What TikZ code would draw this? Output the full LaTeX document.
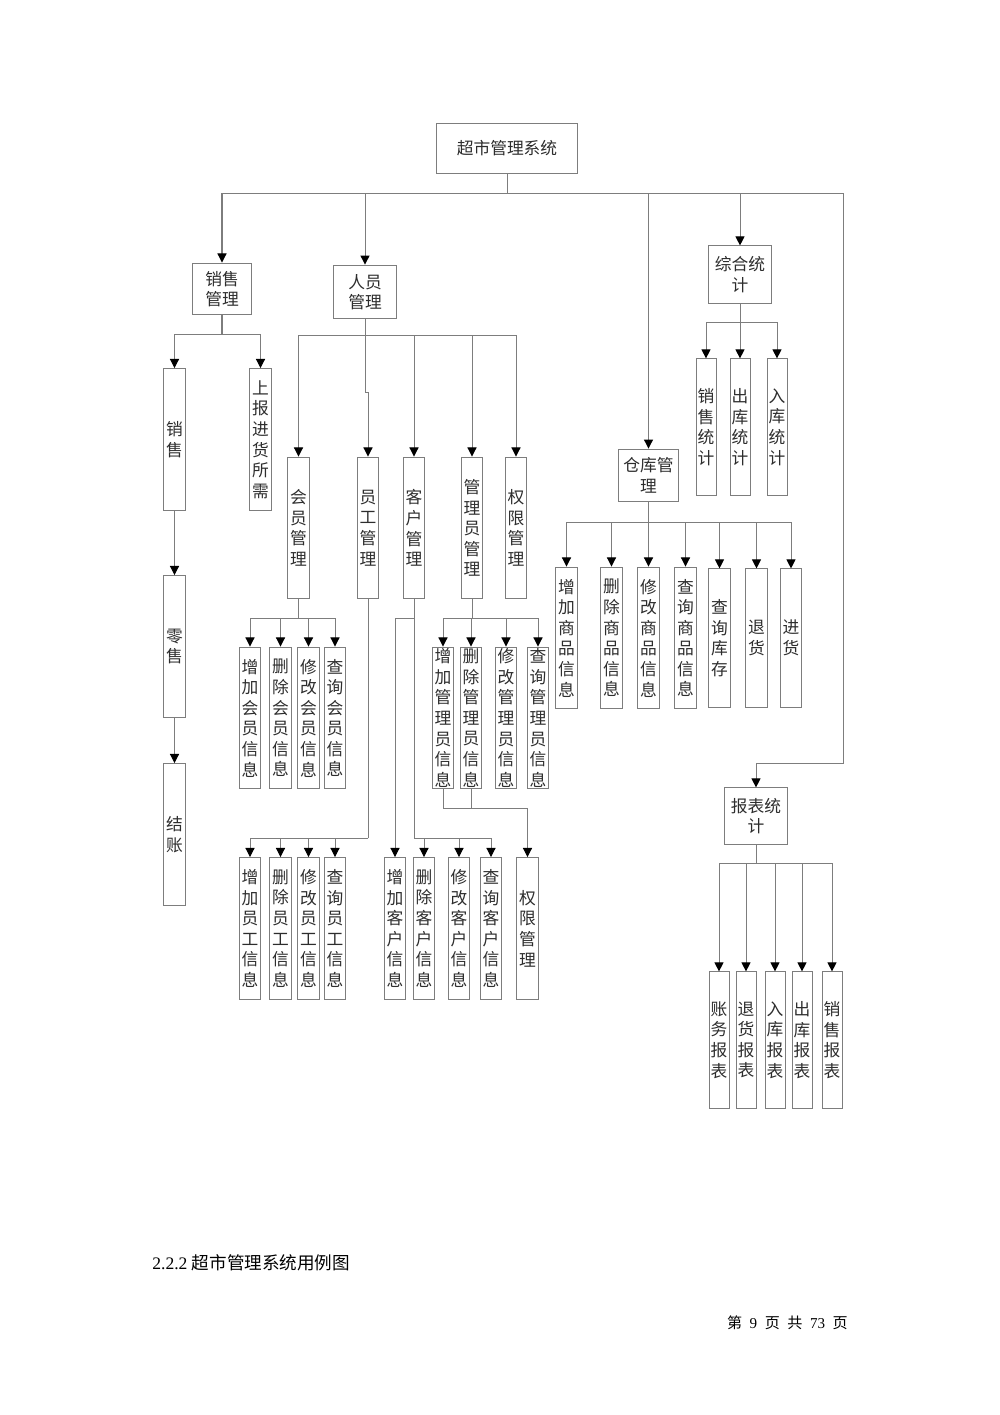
\documentclass[tikz,border=0pt]{standalone}
\usepackage{fontspec}
\setmainfont{Liberation Serif}
\newfontfamily\cjk{Noto Sans CJK SC}
\usepackage{tikz}
\usetikzlibrary{arrows.meta}
\definecolor{linegray}{RGB}{125,125,125}
\definecolor{textgray}{RGB}{45,45,45}

\begin{document}
\begin{tikzpicture}[x=0.021cm, y=0.021cm,
    % Box styles
    modbox/.style={draw=linegray, line width=0.6pt, minimum width=1.34cm, minimum height=1.13cm,
                   inner sep=0pt, font=\cjk\fontsize{10pt}{12.3pt}\selectfont, text=textgray, align=center},
    leafbox/.style={draw=linegray, line width=0.6pt, minimum width=0.46cm, minimum height=2.98cm,
                    inner sep=0pt, font=\cjk\fontsize{10pt}{12.3pt}\selectfont, text=textgray, align=center},
    shortbox/.style={leafbox, minimum width=0.42cm, minimum height=2.86cm},
    % Connector styles
    arrow/.style={-{Triangle[width=0.19cm, length=0.19cm, color=black]}, line width=0.6pt, draw=linegray},
    link/.style={line width=0.6pt, draw=linegray},
  ]
  \useasboundingbox (0,0) rectangle (1000,-1415);

  % ===== TOP: system =====
  \node[modbox, minimum width=2.98cm, minimum height=1.07cm] (root) at (507,-148.5) {超市管理系统};

  % ===== Level 1 modules =====
  \node[modbox, minimum width=1.22cm, minimum height=1.09cm] (sales) at (222,-289) {销售\\管理};
  \node[modbox] (staff) at (365,-292) {人员\\管理};
  \node[modbox, minimum width=1.28cm, minimum height=1.11cm] (store) at (648.5,-475.5) {仓库管\\理};
  \node[modbox, minimum height=1.2cm] (stat) at (740,-274.5) {综合统\\计};
  \node[modbox, minimum height=1.18cm] (report) at (756,-816) {报表统\\计};

  % ===== Sales =====
  \node[leafbox] (sell) at (174.5,-439.5) {销\\售};
  \node[leafbox] (upreq) at (260.5,-439.5) {上\\报\\进\\货\\所\\需};
  \node[leafbox] (retail) at (174.5,-646.5) {零\\售};
  \node[leafbox] (checkout) at (174.5,-834.5) {结\\账};

  % ===== Staff =====
  \node[leafbox] (member) at (298.5,-528) {会\\员\\管\\理};
  \node[leafbox] (employee) at (368,-528) {员\\工\\管\\理};
  \node[leafbox] (customer) at (414,-528) {客\\户\\管\\理};
  \node[leafbox] (admin) at (472,-528) {管\\理\\员\\管\\理};
  \node[leafbox] (perm) at (516,-528) {权\\限\\管\\理};

  % member ops
  \node[leafbox] (addmem) at (250,-718) {增\\加\\会\\员\\信\\息};
  \node[leafbox] (delmem) at (280.5,-718) {删\\除\\会\\员\\信\\息};
  \node[leafbox] (modmem) at (308.5,-718) {修\\改\\会\\员\\信\\息};
  \node[leafbox] (qrymem) at (335,-718) {查\\询\\会\\员\\信\\息};

  % employee ops
  \node[leafbox] (addemp) at (250,-928.5) {增\\加\\员\\工\\信\\息};
  \node[leafbox] (delemp) at (280.5,-928.5) {删\\除\\员\\工\\信\\息};
  \node[leafbox] (modemp) at (308.5,-928.5) {修\\改\\员\\工\\信\\息};
  \node[leafbox] (qryemp) at (335,-928.5) {查\\询\\员\\工\\信\\息};

  % customer ops
  \node[leafbox] (addcus) at (395,-928.5) {增\\加\\客\\户\\信\\息};
  \node[leafbox] (delcus) at (424,-928.5) {删\\除\\客\\户\\信\\息};
  \node[leafbox] (modcus) at (459,-928.5) {修\\改\\客\\户\\信\\息};
  \node[leafbox] (qrycus) at (491,-928.5) {查\\询\\客\\户\\信\\息};

  % admin ops
  \node[leafbox] (addadm) at (443,-718) {增\\加\\管\\理\\员\\信\\息};
  \node[leafbox] (deladm) at (471,-718) {删\\除\\管\\理\\员\\信\\息};
  \node[leafbox] (modadm) at (506,-718) {修\\改\\管\\理\\员\\信\\息};
  \node[leafbox] (qryadm) at (538,-718) {查\\询\\管\\理\\员\\信\\息};
  \node[leafbox] (permmgr) at (527.5,-928.5) {权\\限\\管\\理};

  % ===== Statistics =====
  \node[shortbox] (salestat) at (706,-427) {销\\售\\统\\计};
  \node[shortbox] (outstat) at (740,-427) {出\\库\\统\\计};
  \node[shortbox] (instat) at (777,-427) {入\\库\\统\\计};

  % ===== Store =====
  \node[leafbox] (addgd) at (566.5,-638) {增\\加\\商\\品\\信\\息};
  \node[leafbox] (delgd) at (611.5,-638) {删\\除\\商\\品\\信\\息};
  \node[leafbox] (modgd) at (648.5,-638) {修\\改\\商\\品\\信\\息};
  \node[leafbox] (qrygd) at (685.5,-638) {查\\询\\商\\品\\信\\息};
  \node[leafbox, minimum height=2.9cm] (qrystk) at (719.5,-638) {查\\询\\库\\存};
  \node[leafbox, minimum height=2.9cm] (retgd) at (756.5,-638) {退\\货};
  \node[leafbox, minimum height=2.9cm] (buygd) at (791,-638) {进\\货};

  % ===== Reports =====
  \node[shortbox] (acctrep) at (719,-1040) {账\\务\\报\\表};
  \node[shortbox] (retrep) at (746,-1040) {退\\货\\报\\表};
  \node[shortbox] (inrep) at (775,-1040) {入\\库\\报\\表};
  \node[shortbox] (outrep) at (802,-1040) {出\\库\\报\\表};
  \node[shortbox] (salerep) at (832,-1040) {销\\售\\报\\表};

  % ===== Connectors =====
  \coordinate (rootbus) at (507,-193);
  \coordinate (rbend) at (843,-763);
  \draw[link] (root.south) -- (rootbus);
  \draw[arrow] (rootbus) -| (sales.north);
  \draw[arrow] (rootbus) -| (staff.north);
  \draw[arrow] (rootbus) -| (store.north);
  \draw[arrow] (rootbus) -| (stat.north);
  \draw[arrow] (rootbus) -| (rbend) -| (report.north);

  % sales
  \coordinate (salesbus) at (222,-334);
  \draw[link] (sales.south) -- (salesbus);
  \draw[arrow] (salesbus) -| (sell.north);
  \draw[arrow] (salesbus) -| (upreq.north);
  \draw[arrow] (sell) -- (retail);
  \draw[arrow] (retail) -- (checkout);

  % staff
  \coordinate (staffbus) at (365,-335);
  \coordinate (staffjog) at (365,-392);
  \draw[link] (staff.south) -- (staffbus);
  \draw[arrow] (staffbus) -| (member.north);
  \draw[arrow] (staffbus) -- (staffjog) -| (employee.north);
  \draw[arrow] (staffbus) -| (customer.north);
  \draw[arrow] (staffbus) -| (admin.north);
  \draw[arrow] (staffbus) -| (perm.north);

  \coordinate (membus) at (298.5,-618);
  \draw[link] (member.south) -- (membus);
  \draw[arrow] (membus) -| (addmem.north);
  \draw[arrow] (membus) -| (delmem.north);
  \draw[arrow] (membus) -| (modmem.north);
  \draw[arrow] (membus) -| (qrymem.north);

  \coordinate (empbus) at (368,-838);
  \draw[link] (employee.south) -- (empbus);
  \draw[arrow] (empbus) -| (addemp.north);
  \draw[arrow] (empbus) -| (delemp.north);
  \draw[arrow] (empbus) -| (modemp.north);
  \draw[arrow] (empbus) -| (qryemp.north);

  \coordinate (cusbus) at (414,-618);
  \coordinate (cusbus2) at (414,-838);
  \draw[link] (customer.south) -- (cusbus2);
  \draw[arrow] (cusbus) -| (addcus.north);
  \draw[arrow] (cusbus2) -| (delcus.north);
  \draw[arrow] (cusbus2) -| (modcus.north);
  \draw[arrow] (cusbus2) -| (qrycus.north);

  \coordinate (admbus) at (472,-618);
  \draw[link] (admin.south) -- (admbus);
  \draw[arrow] (admbus) -| (addadm.north);
  \draw[arrow] (admbus) -| (deladm.north);
  \draw[arrow] (admbus) -| (modadm.north);
  \draw[arrow] (admbus) -| (qryadm.north);

  \coordinate (permbus) at (443,-808);
  \draw[arrow] (addadm.south) -- (permbus) -| (permmgr.north);
  \draw[link] (deladm.south) -- (deladm.south |- permbus);

  % statistics
  \coordinate (statbus) at (740,-322);
  \draw[link] (stat.south) -- (statbus);
  \draw[arrow] (statbus) -| (salestat.north);
  \draw[arrow] (statbus) -- (outstat.north);
  \draw[arrow] (statbus) -| (instat.north);

  % store
  \coordinate (storebus) at (648.5,-522);
  \draw[link] (store.south) -- (storebus);
  \draw[arrow] (storebus) -| (addgd.north);
  \draw[arrow] (storebus) -| (delgd.north);
  \draw[arrow] (storebus) -- (modgd.north);
  \draw[arrow] (storebus) -| (qrygd.north);
  \draw[arrow] (storebus) -| (qrystk.north);
  \draw[arrow] (storebus) -| (retgd.north);
  \draw[arrow] (storebus) -| (buygd.north);

  % reports
  \coordinate (repbus) at (756,-863);
  \draw[link] (report.south) -- (repbus);
  \draw[arrow] (repbus) -| (acctrep.north);
  \draw[arrow] (repbus) -| (retrep.north);
  \draw[arrow] (repbus) -| (inrep.north);
  \draw[arrow] (repbus) -| (outrep.north);
  \draw[arrow] (repbus) -| (salerep.north);

  % ===== Caption and page number =====
  \node[anchor=west, inner sep=0pt, font=\fontsize{10.5pt}{12pt}\selectfont] (caption) at (152,-1263)
    {2.2.2 {\cjk 超市管理系统用例图}};
  \node[anchor=east, inner sep=0pt, font=\fontsize{9pt}{11pt}\selectfont] (pageno) at (848,-1323)
    {{\cjk 第}\enspace 9\enspace{\cjk 页}\enspace{\cjk 共}\enspace 73\enspace{\cjk 页}};

\end{tikzpicture}
\end{document}
